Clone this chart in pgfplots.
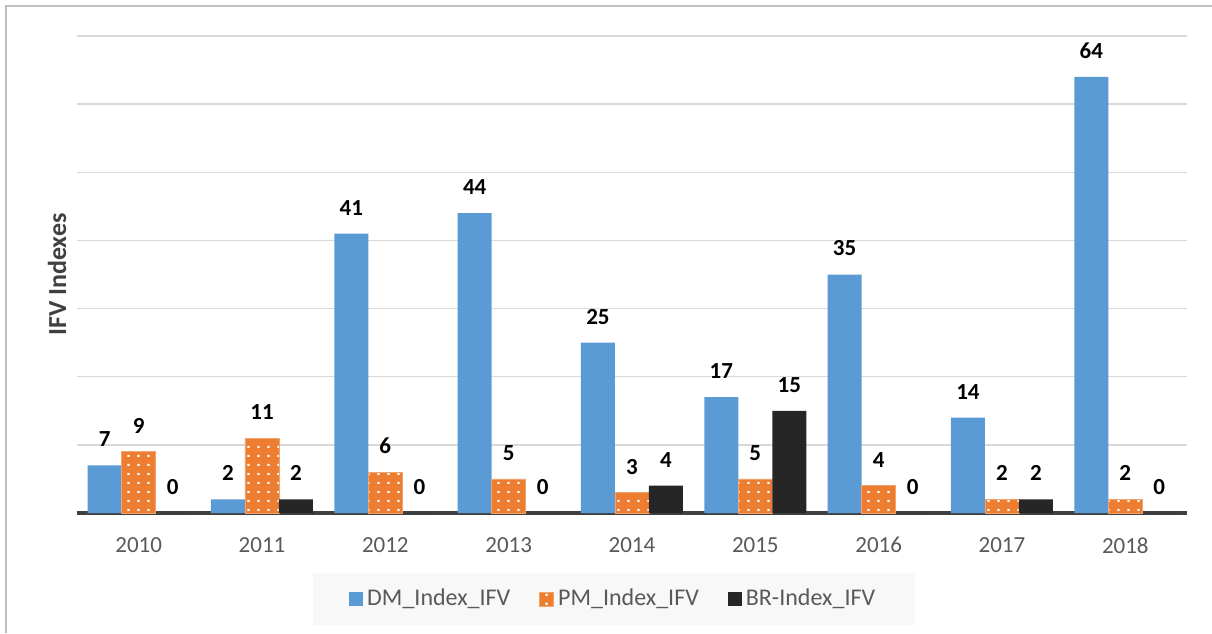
\documentclass[border=0pt]{standalone}
\usepackage{fontspec}
\setmainfont{Carlito}
\usepackage{pgfplots}
\pgfplotsset{compat=1.18}
\usetikzlibrary{patterns.meta}
\definecolor{cblue}{HTML}{5B9BD5}
\definecolor{corange}{HTML}{ED7D31}
\definecolor{cblack}{HTML}{262626}
\definecolor{cgrid}{HTML}{D9D9D9}
\definecolor{ctext}{HTML}{595959}
\definecolor{caxis}{HTML}{404040}
\definecolor{clegbg}{HTML}{F8F8F8}
\definecolor{cframe}{HTML}{BFBFBF}
\tikzdeclarepattern{
  name=wdots,
  type=uncolored,
  bottom left={(0pt,0pt)},
  top right={(4.75pt,4.25pt)},
  tile size={(4.75pt,4.25pt)},
  code={\pgfpathrectangle{\pgfpoint{1.8pt}{1.6pt}}{\pgfpoint{1.1pt}{1.1pt}}\pgfusepath{fill}}
}
\pgfplotstableread{
x DM PM BR
0 7 9 0
1 2 11 2
2 41 6 0
3 44 5 0
4 25 3 4
5 17 5 15
6 35 4 0
7 14 2 2
8 64 2 0
}\datatable
\begin{document}
\begin{tikzpicture}
\useasboundingbox (0,0) rectangle (606pt,316.5pt);
\draw[cframe, line width=1pt] (3.1pt,0pt) -- (3.1pt,313.6pt) -- (606pt,313.6pt);
\begin{axis}[
  at={(38.5pt,60pt)}, anchor=south west,
  width=555pt, height=238.5pt, scale only axis,
  xmin=-0.5, xmax=8.5, ymin=0, ymax=70,
  ybar=0pt, bar width=17pt,
  axis line style={draw=none},
  major tick length=0pt,
  ytick={10,20,...,70}, yticklabels={},
  ymajorgrids, grid style={cgrid, line width=0.75pt},
  extra y ticks={0}, extra y tick labels={},
  extra y tick style={grid style={caxis, line width=1.75pt}},
  xtick={0,...,8},
  xticklabels={2010,2011,2012,2013,2014,2015,2016,2017,2018},
  xticklabel style={font=\fontsize{11.5}{13}\selectfont, text=ctext, anchor=north, inner sep=0pt},
  xticklabel shift=12pt,
  ylabel={IFV Indexes},
  ylabel style={font=\fontsize{13}{15}\selectfont\bfseries, text=caxis, at={(axis description cs:-0.018,0.5)}, anchor=center},
  nodes near coords={\pgfmathprintnumber[assume math mode=true]{\pgfplotspointmeta}},
  every node near coord/.append style={font=\fontsize{11.5}{13}\selectfont\bfseries, text=black, anchor=south, inner sep=0pt, yshift=9pt},
  legend columns=3,
  legend style={at={(axis description cs:0.484,-0.1803)}, anchor=center, draw=none, fill=clegbg,
    font=\fontsize{12}{14}\selectfont, text=ctext, inner xsep=18pt, inner ysep=6pt,
    /tikz/every even column/.append style={column sep=12.5pt}},
  legend image code/.code={\path[#1, draw=none] (0pt,-3.5pt) rectangle (7pt,3.5pt);},
]
\addplot[fill=cblue, draw=none] table[x=x, y=DM] {\datatable};
\addlegendentry{DM\_Index\_IFV}
\addplot[fill=corange, draw=corange!70!white, line width=0.4pt, postaction={pattern=wdots, pattern color=white}] table[x=x, y=PM] {\datatable};
\addlegendentry{PM\_Index\_IFV}
\addplot[fill=cblack, draw=none] table[x=x, y=BR] {\datatable};
\addlegendentry{BR-Index\_IFV}
\end{axis}
\end{tikzpicture}
\end{document}
